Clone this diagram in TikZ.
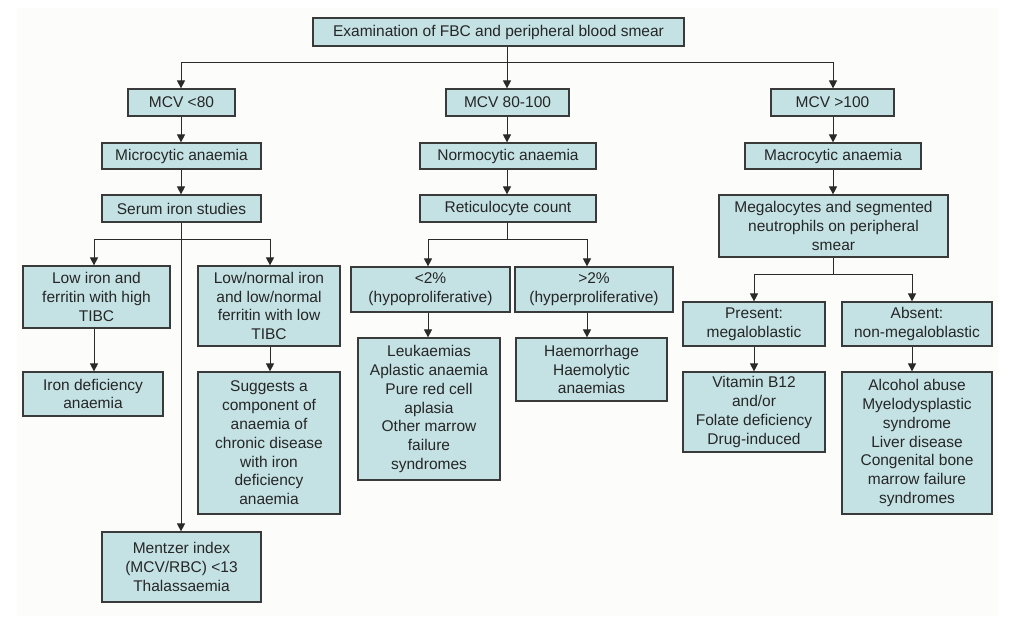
\documentclass[tikz,border=0pt]{standalone}
\usepackage{fontspec}
\setmainfont{Liberation Sans}
\usetikzlibrary{arrows.meta}
\definecolor{boxfill}{HTML}{C4E2E4}
\definecolor{boxline}{HTML}{3A3A3A}
\definecolor{bgcol}{HTML}{FCFCFA}
\definecolor{linecol}{HTML}{2A2A2A}
\tikzset{
  box/.style={draw=boxline, line width=1.2pt, fill=boxfill, inner sep=0pt,
    align=center, font=\fontsize{15.5}{18.8}\selectfont, text=black!85},
  conn/.style={draw=linecol, line width=0.9pt},
  arr/.style={conn, -{Triangle[width=8pt,length=8pt]}}
}
\newcommand{\bx}[6]{%
  \node[box, minimum width={#4-#2}, minimum height={#5-#3}] (#1) at ({(#2+#4)/2},{(#3+#5)/2}) {#6};}
\begin{document}
\begin{tikzpicture}[x=1pt,y=-1pt]
\useasboundingbox (0,0) rectangle (1024,616);
\fill[bgcol] (17,8) rectangle (998,616);
% level 0
\bx{top}{313}{18}{684}{46}{Examination of FBC and peripheral blood smear}
% level 1
\bx{mcva}{128}{89}{235}{116}{MCV {<}80}
\bx{mcvb}{446}{89}{569}{116}{MCV 80-100}
\bx{mcvc}{771}{89}{894}{116}{MCV {>}100}
% level 2
\bx{micro}{102}{143}{261}{169}{Microcytic anaemia}
\bx{normo}{420}{143}{596}{169}{Normocytic anaemia}
\bx{macro}{745}{143}{921}{169}{Macrocytic anaemia}
% level 3
\bx{serum}{102}{195}{261}{222}{Serum iron studies}
\bx{retic}{420}{195}{596}{222}{Reticulocyte count}
\bx{megal}{719}{195}{948}{257}{Megalocytes and segmented\\neutrophils on peripheral\\smear}
% level 4 left
\bx{lowiron}{23}{266}{170}{328}{Low iron and\\ferritin with high\\TIBC}
\bx{lownorm}{198}{266}{340}{346}{Low/normal iron\\and low/normal\\ferritin with low\\TIBC}
\bx{irondef}{23}{372}{163}{416}{Iron deficiency\\anaemia}
\bx{suggest}{198}{372}{340}{514}{Suggests a\\component of\\anaemia of\\chronic disease\\with iron\\deficiency\\anaemia}
\bx{mentzer}{102}{532}{261}{602}{Mentzer index\\(MCV/RBC) {<}13\\Thalassaemia}
% level 4 middle
\bx{hypo}{351}{267}{510}{312}{{<}2\%\\(hypoproliferative)}
\bx{hyper}{515}{267}{673}{312}{{>}2\%\\(hyperproliferative)}
\bx{leuk}{358}{338}{500}{480}{Leukaemias\\Aplastic anaemia\\Pure red cell\\aplasia\\Other marrow\\failure\\syndromes}
\bx{haem}{516}{338}{667}{401}{Haemorrhage\\Haemolytic\\anaemias}
% level 4 right
\bx{present}{683}{302}{825}{346}{Present:\\megaloblastic}
\bx{absent}{842}{302}{992}{346}{Absent:\\non-megaloblastic}
\bx{vitb}{683}{372}{825}{452}{Vitamin B12\\and/or\\Folate deficiency\\Drug-induced}
\bx{alcohol}{842}{372}{992}{514}{Alcohol abuse\\Myelodysplastic\\syndrome\\Liver disease\\Congenital bone\\marrow failure\\syndromes}
% coordinates
\coordinate (busa) at (0,62);
\coordinate (busb) at (0,239);
\coordinate (busc) at (0,274);
\coordinate (xa) at (181,0);
\coordinate (xb) at (507,0);
\coordinate (xc) at (833,0);
% connectors top
\draw[arr] (top.south -| xb) -- (mcvb.north -| xb);
\draw[conn] (xa |- busa) -- (xc |- busa);
\draw[arr] (xa |- busa) -- (mcva.north -| xa);
\draw[arr] (xc |- busa) -- (mcvc.north -| xc);
% columns
\draw[arr] (mcva.south -| xa) -- (micro.north -| xa);
\draw[arr] (micro.south -| xa) -- (serum.north -| xa);
\draw[arr] (mcvb.south -| xb) -- (normo.north -| xb);
\draw[arr] (normo.south -| xb) -- (retic.north -| xb);
\draw[arr] (mcvc.south -| xc) -- (macro.north -| xc);
\draw[arr] (macro.south -| xc) -- (megal.north -| xc);
% serum iron branches
\coordinate (xl1) at (94,0);
\coordinate (xl2) at (270,0);
\draw[arr] (serum.south -| xa) -- (mentzer.north -| xa);
\draw[conn] (xl1 |- busb) -- (xl2 |- busb);
\draw[arr] (xl1 |- busb) -- (lowiron.north -| xl1);
\draw[arr] (xl2 |- busb) -- (lownorm.north -| xl2);
\draw[arr] (lowiron.south -| xl1) -- (irondef.north -| xl1);
\draw[arr] (lownorm.south -| xl2) -- (suggest.north -| xl2);
% reticulocyte branches
\coordinate (xm1) at (428,0);
\coordinate (xm2) at (587,0);
\draw[conn] (retic.south -| xb) -- (xb |- busb);
\draw[conn] (xm1 |- busb) -- (xm2 |- busb);
\draw[arr] (xm1 |- busb) -- (hypo.north -| xm1);
\draw[arr] (xm2 |- busb) -- (hyper.north -| xm2);
\draw[arr] (hypo.south -| xm1) -- (leuk.north -| xm1);
\draw[arr] (hyper.south -| xm2) -- (haem.north -| xm2);
% megalocyte branches
\coordinate (xr1) at (754,0);
\coordinate (xr2) at (912,0);
\draw[conn] (megal.south -| xc) -- (xc |- busc);
\draw[conn] (xr1 |- busc) -- (xr2 |- busc);
\draw[arr] (xr1 |- busc) -- (present.north -| xr1);
\draw[arr] (xr2 |- busc) -- (absent.north -| xr2);
\draw[arr] (present.south -| xr1) -- (vitb.north -| xr1);
\draw[arr] (absent.south -| xr2) -- (alcohol.north -| xr2);
\end{tikzpicture}
\end{document}
